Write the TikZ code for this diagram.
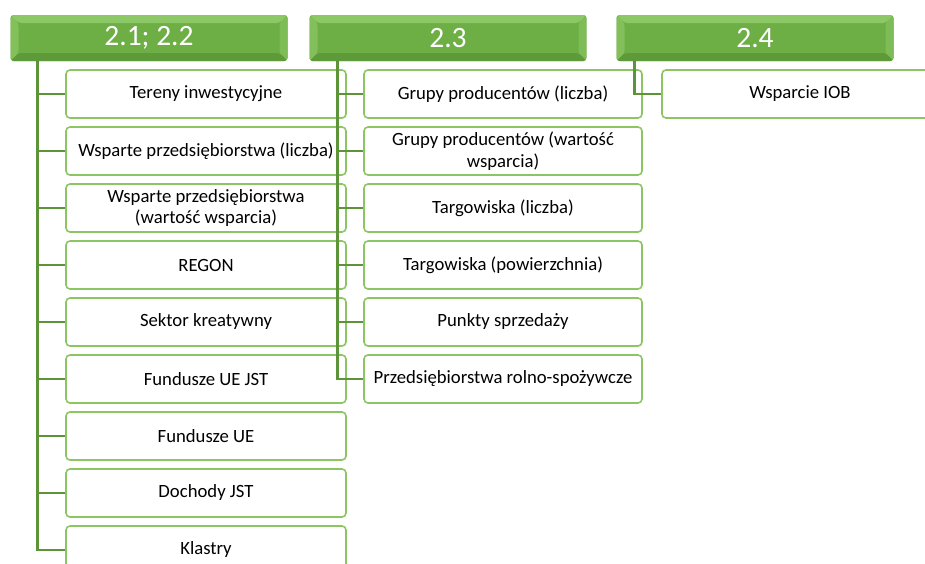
\documentclass[tikz,border=0pt]{standalone}
\usepackage{fontspec}
\setmainfont{Carlito}
\definecolor{hgreen}{HTML}{6DAE45}
\definecolor{hlight}{HTML}{8CC866}
\definecolor{hdark}{HTML}{5E9A3A}
\definecolor{hside}{HTML}{7DBC56}
\definecolor{lgreen}{HTML}{5E9439}
\definecolor{bgreen}{HTML}{8CC663}
\tikzset{
  hdr/.style={minimum width=277pt, minimum height=46pt, inner sep=0pt, rounded corners=3pt,
    fill=hgreen, text=white, font=\fontsize{29.5}{31}\selectfont,
    path picture={
      \fill[hlight] (path picture bounding box.north west) -- (path picture bounding box.north east)
        -- ([xshift=-8pt,yshift=-8pt]path picture bounding box.north east)
        -- ([xshift=8pt,yshift=-8pt]path picture bounding box.north west) -- cycle;
      \fill[hlight!70!hgreen] (path picture bounding box.north west) -- ([xshift=8pt,yshift=-8pt]path picture bounding box.north west)
        -- ([xshift=8pt,yshift=8pt]path picture bounding box.south west) -- (path picture bounding box.south west) -- cycle;
      \fill[hside] (path picture bounding box.north east) -- ([xshift=-8pt,yshift=-8pt]path picture bounding box.north east)
        -- ([xshift=-8pt,yshift=8pt]path picture bounding box.south east) -- (path picture bounding box.south east) -- cycle;
      \fill[hdark] (path picture bounding box.south west) -- (path picture bounding box.south east)
        -- ([xshift=-8pt,yshift=8pt]path picture bounding box.south east)
        -- ([xshift=8pt,yshift=8pt]path picture bounding box.south west) -- cycle;
    }},
  item/.style={draw=bgreen, line width=1.6pt, fill=white, rounded corners=4pt, minimum height=48pt,
    inner sep=0pt, align=center, font=\fontsize{18.7}{21.5}\selectfont, text=black},
  itemA/.style={item, minimum width=280pt},
  itemB/.style={item, minimum width=278pt},
  itemC/.style={item, minimum width=276pt},
  conn/.style={draw=lgreen, line width=2.8pt}
}
\begin{document}
\begin{tikzpicture}[x=1pt,y=-1pt]
\useasboundingbox (0,0) rectangle (925,563);
\clip (0,0) rectangle (925,563);
% headers
\node[hdr] (h1) at (149,38) {2.1; 2.2};
\node[hdr] (h2) at (448,38) {2.3};
\node[hdr] (h3) at (755,38) {2.4};
% column 1
\node[itemA] (a1) at (206,94) {Tereny inwestycyjne};
\node[itemA] (a2) at (206,151) {Wsparte przedsiębiorstwa (liczba)};
\node[itemA] (a3) at (206,208) {Wsparte przedsiębiorstwa\\(wartość wsparcia)};
\node[itemA] (a4) at (206,265) {REGON};
\node[itemA] (a5) at (206,322) {Sektor kreatywny};
\node[itemA] (a6) at (206,379) {Fundusze UE JST};
\node[itemA] (a7) at (206,436) {Fundusze UE};
\node[itemA] (a8) at (206,493) {Dochody JST};
\node[itemA] (a9) at (206,550) {Klastry};
% column 2
\node[itemB] (b1) at (503,94) {Grupy producentów (liczba)};
\node[itemB] (b2) at (503,151) {Grupy producentów (wartość\\wsparcia)};
\node[itemB] (b3) at (503,208) {Targowiska (liczba)};
\node[itemB] (b4) at (503,265) {Targowiska (powierzchnia)};
\node[itemB] (b5) at (503,322) {Punkty sprzedaży};
\node[itemB] (b6) at (503,379) {Przedsiębiorstwa rolno-spożywcze};
% column 3
\node[itemC] (c1) at (800,94) {Wsparcie IOB};
% connectors
\foreach \n in {a1,a2,a3,a4,a5,a6,a7,a8,a9}
  \draw[conn] ([xshift=27.5pt]h1.south west) |- (\n.west);
\foreach \n in {b1,b2,b3,b4,b5,b6}
  \draw[conn] ([xshift=28pt]h2.south west) |- (\n.west);
\draw[conn] ([xshift=18pt]h3.south west) |- (c1.west);
\end{tikzpicture}
\end{document}
